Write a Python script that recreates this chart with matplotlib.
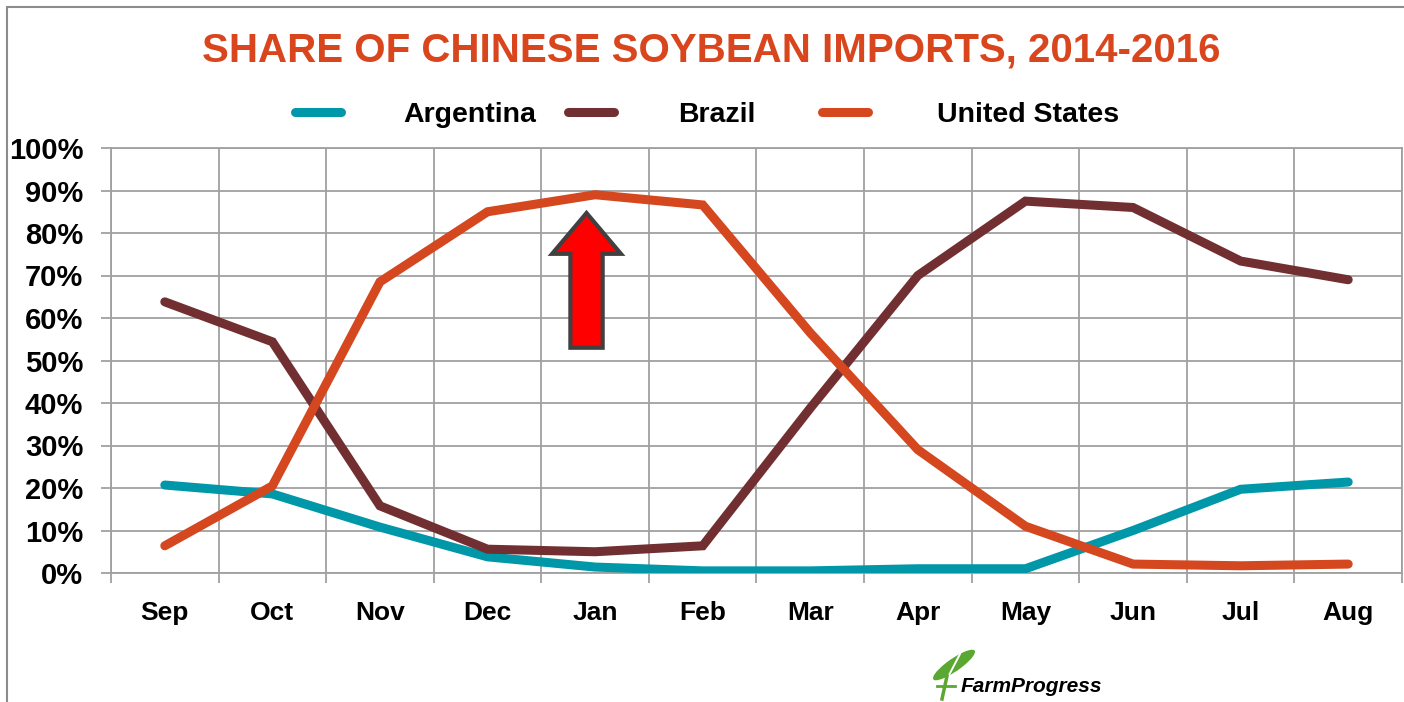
import numpy as np
import matplotlib
matplotlib.use("Agg")
import matplotlib.pyplot as plt
from matplotlib.patches import FancyArrow, Rectangle, Ellipse
from matplotlib.lines import Line2D

# --- data: monthly share of Chinese soybean imports (%) ---
months = ["Sep", "Oct", "Nov", "Dec", "Jan", "Feb", "Mar", "Apr", "May", "Jun", "Jul", "Aug"]
argentina = [20.7, 18.6, 10.8, 3.8, 1.4, 0.5, 0.5, 1.0, 1.0, 10.0, 19.7, 21.4]
brazil = [63.8, 54.4, 15.8, 5.6, 5.0, 6.4, 38.8, 70.0, 87.5, 86.0, 73.4, 69.0]
united_states = [6.4, 20.5, 68.5, 85.0, 89.0, 86.6, 56.5, 29.0, 11.0, 2.1, 1.7, 2.1]
y_ticks = list(range(0, 101, 10))

title = "SHARE OF CHINESE SOYBEAN IMPORTS, 2014-2016"
names = ["Argentina", "Brazil", "United States"]
colors = ["#0097a9", "#722f31", "#d5471e"]

font = ["Liberation Sans", "DejaVu Sans"]
grid_col = "#a0a0a0"

W, H = 1404, 702
fig = plt.figure(figsize=(W / 100, H / 100), dpi=100)

# thin frame around the whole graphic (left and top edges show)
fig.add_artist(Rectangle((7 / W, -0.05), 1.1, (H - 7) / H + 0.05, transform=fig.transFigure,
                         fill=False, edgecolor="#8c8c8c", linewidth=1.5))

ax = fig.add_axes([111 / W, 129 / H, (1402 - 111) / W, 425 / H])

x = np.arange(len(months))
for name, vals, col in zip(names, [argentina, brazil, united_states], colors):
    ax.plot(x, vals, color=col, linewidth=6.5, solid_capstyle="round",
            solid_joinstyle="miter", label=name, zorder=3)

ax.set_xlim(-0.5, len(months) - 0.5)
ax.set_ylim(0, 100)

# month labels centred in each slot, grid lines on the slot edges
ax.set_xticks(x)
ax.set_xticklabels(months)
ax.set_xticks(np.arange(-0.5, len(months)), minor=True)
ax.tick_params(axis="x", which="major", length=0, pad=20)
ax.tick_params(axis="x", which="minor", length=7, width=1.3, color=grid_col)
ax.grid(axis="x", which="minor", color=grid_col, linewidth=1.3)

ax.set_yticks(y_ticks)
ax.set_yticklabels([f"{v}%" for v in y_ticks])
ax.tick_params(axis="y", length=7, width=1.3, color=grid_col, pad=13)
ax.grid(axis="y", which="major", color=grid_col, linewidth=1.3)

for lab in ax.get_xticklabels():
    lab.set_fontfamily(font)
    lab.set_fontweight("bold")
    lab.set_fontsize(19)
for lab in ax.get_yticklabels():
    lab.set_fontfamily(font)
    lab.set_fontweight("bold")
    lab.set_fontsize(21)

for sp in ax.spines.values():
    sp.set_color(grid_col)
    sp.set_linewidth(1.3)

# red arrow pointing up at the US peak
ax.add_patch(FancyArrow(3.92, 53.0, 0, 31.7, width=0.30, head_width=0.64,
                        head_length=9.6, length_includes_head=True,
                        facecolor="#ff0000", edgecolor="#404040", linewidth=3, zorder=4))

fig.text(711 / W, (H - 50) / H, title, ha="center", va="center", fontsize=29,
         fontweight="bold", color="#d9461e", family=font)

# legend row: short thick line, then the name
key_x = [295, 568, 822]
text_x = [403, 678, 937]
key_y = (H - 112) / H
for kx, tx, name, col in zip(key_x, text_x, names, colors):
    fig.add_artist(Line2D([kx / W, (kx + 46) / W], [key_y, key_y], transform=fig.transFigure,
                          color=col, linewidth=6.5, solid_capstyle="round"))
    fig.text(tx / W, key_y, name, ha="left", va="center_baseline", fontsize=20.5,
             fontweight="bold", family=font)

# FarmProgress logo
leaf = "#5aa832"
fig.add_artist(Ellipse((954 / W, (H - 665) / H), 18 / W, 36 / H, angle=-33,
                       transform=fig.transFigure, facecolor=leaf, edgecolor="none"))
fig.add_artist(Line2D([948 / W, 960 / W], [(H - 677) / H, (H - 654) / H],
                      transform=fig.transFigure, color="white", linewidth=1.4))
fig.add_artist(Line2D([947 / W, 942 / W], [(H - 676) / H, (H - 699) / H],
                      transform=fig.transFigure, color=leaf, linewidth=2.5))
fig.add_artist(Line2D([937 / W, 955 / W], [(H - 686) / H, (H - 686) / H],
                      transform=fig.transFigure, color=leaf, linewidth=2.0))
fig.text(961 / W, (H - 687) / H, "FarmProgress", fontsize=15, fontstyle="italic",
         fontweight="bold", family=font, color="black", va="center", ha="left")

fig.savefig("out.png", dpi=100)
